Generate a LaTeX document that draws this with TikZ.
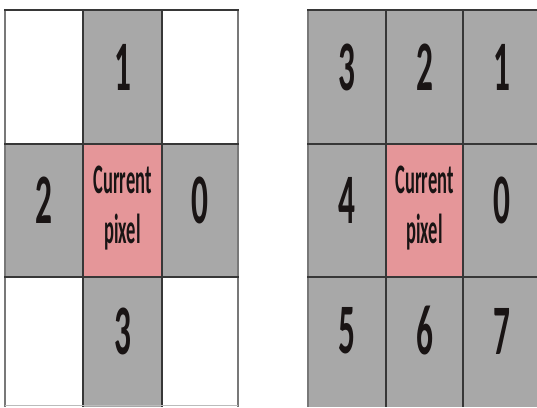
\documentclass[tikz,border=0pt]{standalone}
\usepackage{fontspec}
\setmainfont{Carlito}
\definecolor{cellgray}{RGB}{168,168,168}
\definecolor{cellpink}{RGB}{229,150,153}
\definecolor{gridline}{RGB}{55,55,55}
\definecolor{edgeline}{RGB}{120,120,120}
\definecolor{inkcol}{RGB}{25,20,20}
\newcommand\digtext[1]{\scalebox{0.47}[1]{\fontsize{71}{71}\selectfont\bfseries #1}}
\newcommand\curtext[1]{\scalebox{0.44}[1]{\fontsize{42}{50}\selectfont\bfseries #1}}
\tikzset{
  dig/.style={inner sep=0pt, text=inkcol, yshift=10pt},
  cur/.style={inner sep=0pt, text=inkcol, anchor=base},
  hline/.style={draw=gridline, line width=2.6pt},
  vline/.style={draw=gridline, line width=1.6pt},
  eline/.style={draw=edgeline, line width=2pt},
}
\begin{document}
\begin{tikzpicture}[x=1pt,y=-1pt]
\useasboundingbox (0,0) rectangle (537,407);
\fill[white] (0,0) rectangle (537,407);
% ---------- left grid ----------
\fill[cellgray] (83,10) rectangle (162,144);
\fill[cellgray] (5,144) rectangle (238,277);
\fill[cellgray] (83,277) rectangle (162,407);
\fill[cellpink] (83,144) rectangle (162,277);
% ---------- right grid ----------
\fill[cellgray] (308,10) rectangle (541,407);
\fill[cellpink] (386,144) rectangle (463,277);
% ---------- lines ----------
\draw[eline] (5,10) -- (5,407);
\draw[eline] (238,10) -- (238,407);
\draw[vline] (83,10) -- (83,407);
\draw[vline] (162,10) -- (162,407);
\draw[hline] (4,10) -- (239,10);
\draw[hline] (4,144) -- (239,144);
\draw[hline] (4,277) -- (239,277);
\draw[draw=edgeline!50, line width=1pt] (5,405) -- (238,405);
\draw[eline] (308,10) -- (308,407);
\draw[vline] (386,10) -- (386,407);
\draw[vline] (463,10) -- (463,407);
\draw[hline] (307,10) -- (537,10);
\draw[hline] (307,144) -- (537,144);
\draw[hline] (307,277) -- (537,277);
% ---------- left labels ----------
\node[dig] (l1) at (122.5,77) {\digtext{1}};
\node[dig] (l2) at (44,210.5) {\digtext{2}};
\node[dig] (l0) at (200,210.5) {\digtext{0}};
\node[dig] (l3) at (122.5,341) {\digtext{3}};
\node[cur] (lc1) at (122.5,193) {\curtext{Current}};
\node[cur] (lc2) at (122.5,243) {\curtext{pixel}};
% ---------- right labels ----------
\node[dig] (r3) at (347,77) {\digtext{3}};
\node[dig] (r2) at (424.5,77) {\digtext{2}};
\node[dig] (r1) at (502,77) {\digtext{1}};
\node[dig] (r4) at (347,210.5) {\digtext{4}};
\node[dig] (r0) at (502,210.5) {\digtext{0}};
\node[dig] (r5) at (347,341) {\digtext{5}};
\node[dig] (r6) at (424.5,341) {\digtext{6}};
\node[dig] (r7) at (502,341) {\digtext{7}};
\node[cur] (rc1) at (424.5,193) {\curtext{Current}};
\node[cur] (rc2) at (424.5,243) {\curtext{pixel}};
\end{tikzpicture}
\end{document}
